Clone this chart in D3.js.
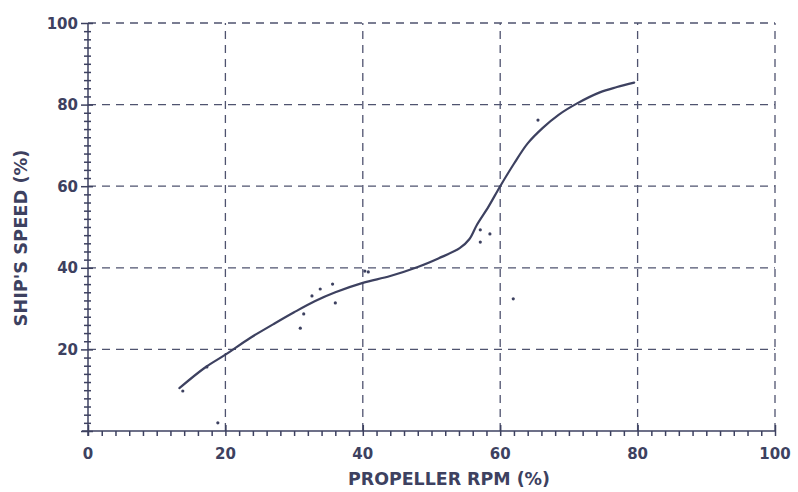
<!DOCTYPE html>
<html><head><meta charset="utf-8">
<script src="https://cdn.jsdelivr.net/npm/d3@7"></script>
<style>body{margin:0;background:#fff}svg{display:block}</style>
</head><body>
<script>
// Data
const curveRpm   = [13.3, 17, 20, 23.6, 27, 30, 33, 36, 40, 44, 48, 51, 54.1, 55.5, 56.6, 58.3, 60, 62, 64, 66.2, 68.5, 71.2, 74.5, 77, 79.5];
const curveSpeed = [10.5, 15.5, 18.7, 22.8, 26.2, 29.1, 31.8, 34.0, 36.3, 38.0, 40.2, 42.3, 44.8, 47.0, 50.5, 55.0, 60.0, 65.5, 70.5, 74.3, 77.5, 80.3, 83.0, 84.3, 85.4];
const dotRpm   = [13.8, 17.3, 18.9, 30.9, 31.4, 32.6, 33.8, 35.6, 36.0, 40.3, 40.8, 57.1, 57.1, 58.5, 65.5, 61.9];
const dotSpeed = [9.8, 15.7, 2.0, 25.2, 28.7, 33.1, 34.8, 36.0, 31.4, 39.2, 39.0, 49.3, 46.3, 48.3, 76.2, 32.4];
const xTicks = [0, 20, 40, 60, 80, 100];
const yTicks = [20, 40, 60, 80, 100];
const xTitle = "PROPELLER RPM (%)";
const yTitle = "SHIP'S SPEED (%)";

const W = 798, H = 492;
const ink = "#3d4160";
const svg = d3.select("body").append("svg").attr("width", W).attr("height", H);
const x = d3.scaleLinear().domain([0, 100]).range([88, 775]);
const y = d3.scaleLinear().domain([0, 100]).range([431, 23]);
const font = "'DejaVu Sans', sans-serif";

// grid
const grid = svg.append("g").attr("stroke", ink).attr("stroke-width", 1.3).attr("stroke-dasharray", "8,6").attr("opacity", 0.9);
grid.selectAll(".vx").data(xTicks.slice(1)).join("line")
  .attr("x1", d => x(d)).attr("x2", d => x(d)).attr("y1", y(0)).attr("y2", y(100));
grid.selectAll(".hy").data(yTicks).join("line")
  .attr("x1", x(0)).attr("x2", x(100)).attr("y1", d => y(d)).attr("y2", d => y(d));

// axes
const xAxis = svg.append("g").attr("transform", `translate(0,${y(0)})`)
  .call(d3.axisBottom(x).ticks(50).tickSize(5).tickFormat(""));
xAxis.selectAll("path,line").attr("stroke", ink).attr("stroke-width", 1.5);
xAxis.select(".domain").attr("d", `M${x(0)-6},0H${x(100)}`);
xAxis.selectAll(".tick line").attr("y1", d => d % 20 === 0 ? -6 : 0).attr("y2", 5);

const yAxis = svg.append("g").attr("transform", `translate(${x(0)},0)`)
  .call(d3.axisLeft(y).ticks(50).tickSize(4).tickFormat(""));
yAxis.selectAll("path,line").attr("stroke", ink).attr("stroke-width", 1.5);
yAxis.select(".domain").attr("d", `M0,${y(0)+5}V${y(100)}`);
yAxis.selectAll(".tick line").attr("x1", d => d % 20 === 0 ? -7 : -4).attr("x2", d => d % 20 === 0 ? 5 : 3);

// tick labels
svg.append("g").selectAll("text").data(xTicks).join("text")
  .attr("x", d => x(d)).attr("y", 459).attr("text-anchor", "middle")
  .attr("font-family", font).attr("font-size", 15).attr("font-weight", "bold").attr("fill", ink)
  .text(d => d);
svg.append("g").selectAll("text").data(yTicks).join("text")
  .attr("x", 78).attr("y", d => y(d) + 5.5).attr("text-anchor", "end")
  .attr("font-family", font).attr("font-size", 15).attr("font-weight", "bold").attr("fill", ink)
  .text(d => d);

// titles
svg.append("text").attr("x", 449).attr("y", 485).attr("text-anchor", "middle")
  .attr("font-family", font).attr("font-size", 17.5).attr("font-weight", "bold").attr("fill", ink)
  .attr("textLength", 202).attr("lengthAdjust", "spacingAndGlyphs").text(xTitle);
svg.append("text").attr("transform", `translate(27,238) rotate(-90)`).attr("text-anchor", "middle")
  .attr("font-family", font).attr("font-size", 17.5).attr("font-weight", "bold").attr("fill", ink)
  .attr("textLength", 177).attr("lengthAdjust", "spacingAndGlyphs").text(yTitle);

// curve
const pts = curveRpm.map((r, i) => [r, curveSpeed[i]]);
svg.append("path").datum(pts)
  .attr("d", d3.line().x(d => x(d[0])).y(d => y(d[1])).curve(d3.curveCatmullRom.alpha(0.5)))
  .attr("fill", "none").attr("stroke", ink).attr("stroke-width", 2.2).attr("stroke-linecap", "round");

// scattered dots
svg.append("g").selectAll("circle").data(dotRpm.map((r, i) => [r, dotSpeed[i]])).join("circle")
  .attr("cx", d => x(d[0])).attr("cy", d => y(d[1])).attr("r", 1.6).attr("fill", ink);
</script>
</body></html>
